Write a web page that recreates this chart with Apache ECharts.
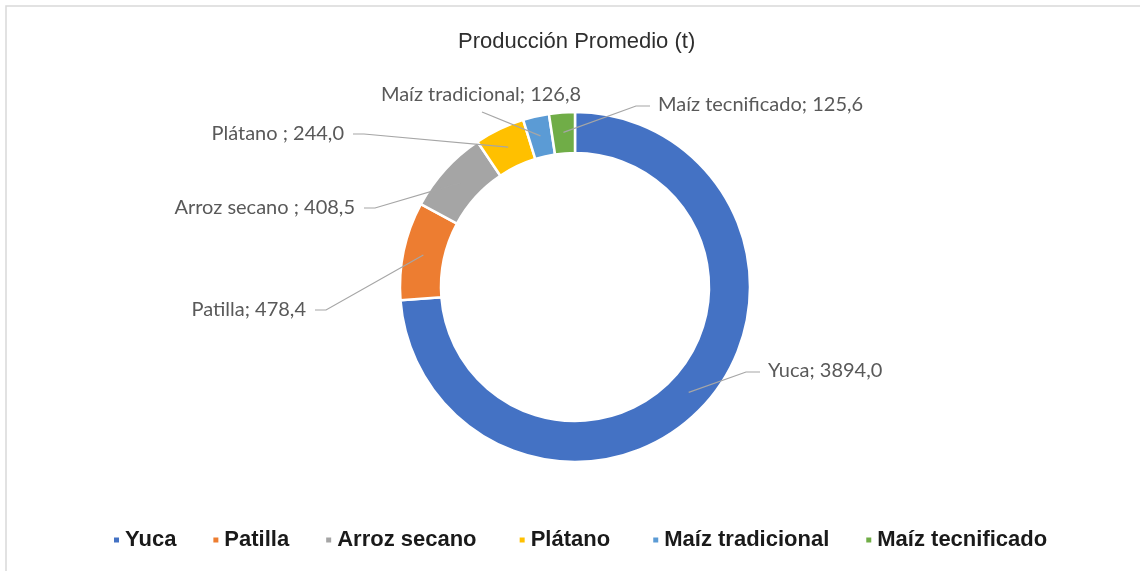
<!DOCTYPE html>
<html>
<head>
<meta charset="utf-8">
<script src="https://cdn.jsdelivr.net/npm/echarts@6/dist/echarts.min.js"></script>
<style>
  html, body { margin: 0; padding: 0; background: #fff; }
  #container { width: 1140px; height: 571px; }
</style>
</head>
<body>
<div id="container"></div>
<script>
// datos
const categories = ['Yuca', 'Patilla', 'Arroz secano ', 'Plátano ', 'Maíz tradicional', 'Maíz tecnificado'];
const produccion = [3894.0, 478.4, 408.5, 244.0, 126.8, 125.6];
const colores = ['#4472C4', '#ED7D31', '#A5A5A5', '#FFC000', '#5B9BD5', '#70AD47'];

// centro y radios del anillo (px)
const cx = 575, cy = 287, rIn = 134, rOut = 175, rLinea = 155;

// posición de cada etiqueta: x, y, lado donde se pega la línea
const etiquetas = [
    {x: 768, y: 371, align: 'left'},
    {x: 306, y: 310, align: 'right'},
    {x: 355, y: 208, align: 'right'},
    {x: 344, y: 134, align: 'right'},
    {x: 481, y: 95, align: 'center'},
    {x: 658, y: 105, align: 'left'}
];

function formatoValor(v) {
    return v.toFixed(1).replace('.', ',');
}

function datosPie() {
    return categories.map(function (c, i) {
        return {name: c, value: produccion[i]};
    });
}

var dom = document.getElementById('container');
var myChart = echarts.init(dom);

let option = {
    animation: false,
    title: {
        text: 'Producción Promedio (t)',
        left: 453,
        top: 26,
        textStyle: {fontFamily: 'Liberation Sans', fontSize: 22, fontWeight: 'normal', color: '#2e2e2e'}
    },
    //borde del área del gráfico
    graphic: [{
        type: 'rect',
        shape: {x: 6, y: 6, width: 1300, height: 700},
        style: {fill: 'none', stroke: '#d9d9d9', lineWidth: 1.5},
        silent: true
    }],
    legend: {
        left: 107,
        top: 524,
        itemWidth: 7,
        itemHeight: 7,
        itemGap: 35,
        icon: 'rect',
        data: categories,
        textStyle: {fontFamily: 'Liberation Sans', fontSize: 22, fontWeight: 'bold', color: '#1a1a1a'}
    },
    series: [{
        // anillo
        type: 'pie',
        center: [cx, cy],
        radius: [rIn, rOut],
        startAngle: 90,
        clockwise: true,
        z: 2,
        itemStyle: {borderColor: '#fff', borderWidth: 2.5},
        color: colores,
        label: {show: false},
        labelLine: {show: false},
        data: datosPie()
    }, {
        // capa transparente encima, sólo para etiquetas y líneas guía
        type: 'pie',
        center: [cx, cy],
        radius: [rIn, rOut],
        startAngle: 90,
        clockwise: true,
        z: 5,
        silent: true,
        avoidLabelOverlap: false,
        itemStyle: {color: 'rgba(0,0,0,0)', borderWidth: 0},
        emphasis: {disabled: true},
        label: {
            show: true,
            position: 'outside',
            fontFamily: 'Lato',
            fontSize: 20,
            color: '#595959',
            formatter: function (p) {
                return p.name + '; ' + formatoValor(p.value);
            }
        },
        labelLine: {
            show: true,
            lineStyle: {color: '#a6a6a6', width: 1.2}
        },
        labelLayout: function (params) {
            let e = etiquetas[params.dataIndex];
            let p0 = params.labelLinePoints[0];
            let k = rLinea / rOut;
            let inicio = [cx + (p0[0] - cx) * k, cy + (p0[1] - cy) * k];
            let puntos;
            if (e.align === 'left') {
                puntos = [inicio, [e.x - 22, e.y + 1], [e.x - 8, e.y + 1]];
            } else if (e.align === 'right') {
                puntos = [inicio, [e.x + 20, e.y], [e.x + 9, e.y]];
            } else {
                puntos = [inicio, [e.x + 1, e.y + 17]];
            }
            return {
                x: e.x,
                y: e.y,
                align: e.align,
                verticalAlign: 'middle',
                labelLinePoints: puntos
            };
        },
        data: datosPie()
    }]
};

myChart.setOption(option, true);
window.onresize = function () {
    myChart.resize();
};
</script>
</body>
</html>
